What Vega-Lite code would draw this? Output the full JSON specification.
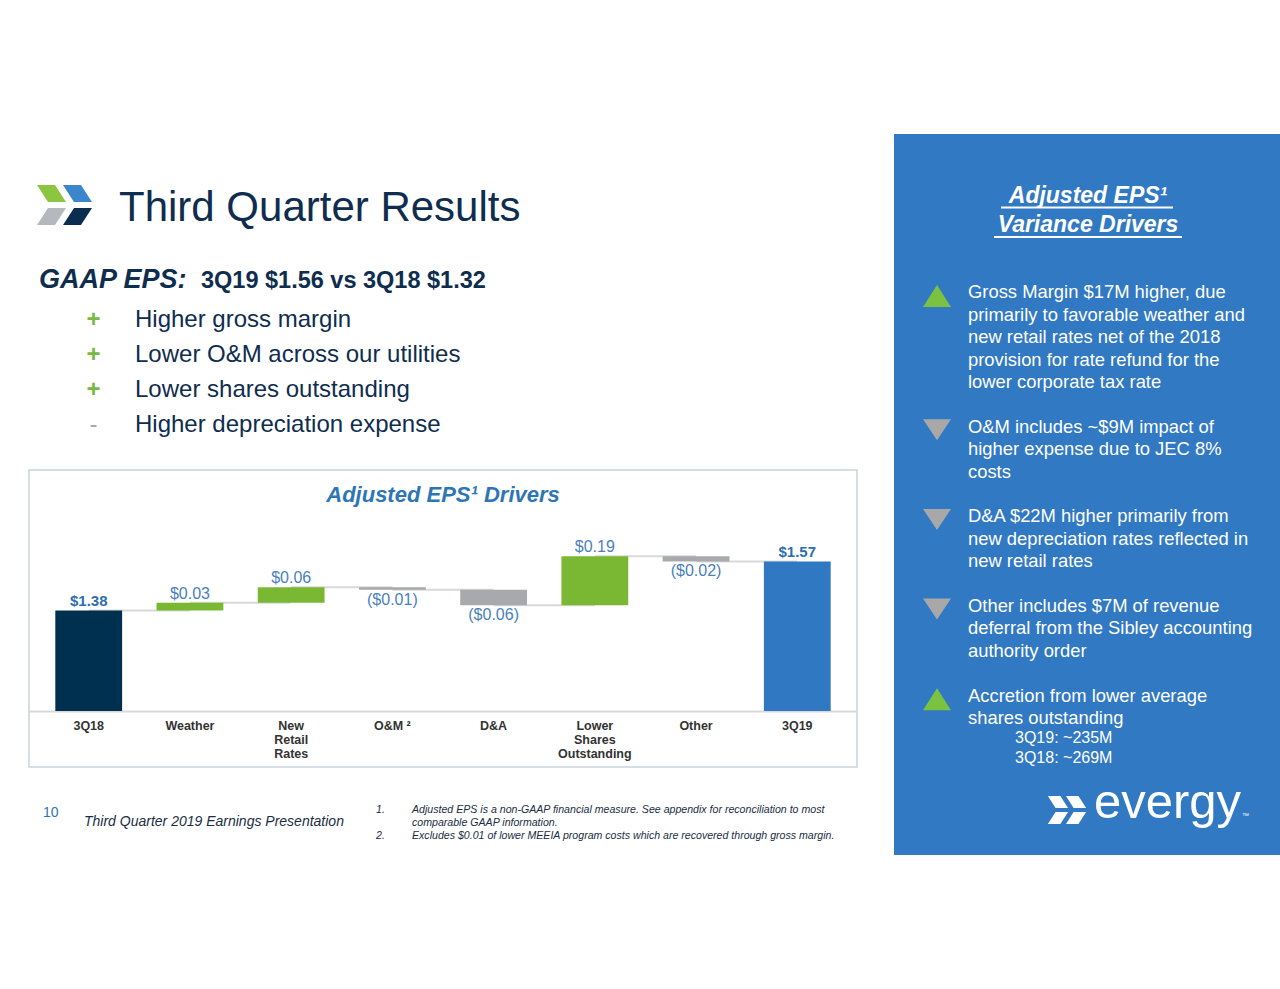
{
  "$schema": "https://vega.github.io/schema/vega-lite/v6.json",
  "background": "#ffffff",
  "padding": {"left": 28, "top": 134, "right": 0, "bottom": 0},
  "spacing": 0,
  "resolve": {"scale": {"x": "independent", "y": "independent", "color": "independent", "shape": "independent"}},
  "config": {"view": {"stroke": null}, "font": "Liberation Sans"},
  "datasets": {
    "slide": [
      {"part": "logo", "piece": "green", "line": 0, "col": 1},
      {"part": "logo", "piece": "blue", "line": 0, "col": 1},
      {"part": "logo", "piece": "gray", "line": 0, "col": 1},
      {"part": "logo", "piece": "navy", "line": 0, "col": 1},
      {"part": "title", "text": "Third Quarter Results", "line": 0, "col": 3},
      {"part": "gaap", "text": "GAAP EPS:", "line": 1, "col": 0},
      {"part": "gaapval", "text": "3Q19 $1.56 vs 3Q18 $1.32", "line": 1, "col": 5},
      {"part": "sign", "text": "+", "line": 2, "col": 2},
      {"part": "bullet", "text": "Higher gross margin", "line": 2, "col": 4},
      {"part": "sign", "text": "+", "line": 3, "col": 2},
      {"part": "bullet", "text": "Lower O&M across our utilities", "line": 3, "col": 4},
      {"part": "sign", "text": "+", "line": 4, "col": 2},
      {"part": "bullet", "text": "Lower shares outstanding", "line": 4, "col": 4},
      {"part": "sign", "text": "-", "line": 5, "col": 2},
      {"part": "bullet", "text": "Higher depreciation expense", "line": 5, "col": 4}
    ],
    "drivers": [
      {"driver": "3Q18", "kind": "total", "start": 0, "end": 1.38, "label": "$1.38", "next": "Weather"},
      {"driver": "Weather", "kind": "up", "start": 1.38, "end": 1.41, "label": "$0.03", "next": "New Retail Rates"},
      {"driver": "New Retail Rates", "kind": "up", "start": 1.41, "end": 1.47, "label": "$0.06", "next": "O&M ²"},
      {"driver": "O&M ²", "kind": "down", "start": 1.47, "end": 1.46, "label": "($0.01)", "next": "D&A"},
      {"driver": "D&A", "kind": "down", "start": 1.46, "end": 1.40, "label": "($0.06)", "next": "Lower Shares Outstanding"},
      {"driver": "Lower Shares Outstanding", "kind": "up", "start": 1.40, "end": 1.59, "label": "$0.19", "next": "Other"},
      {"driver": "Other", "kind": "down", "start": 1.59, "end": 1.57, "label": "($0.02)", "next": "3Q19"},
      {"driver": "3Q19", "kind": "final", "start": 0, "end": 1.57, "label": "$1.57", "next": null}
    ],
    "footer": [
      {"part": "page", "text": "10", "line": 0, "col": 0},
      {"part": "deck", "text": "Third Quarter 2019 Earnings Presentation", "line": 1, "col": 1},
      {"part": "note", "text": "1.", "line": 0, "col": 2},
      {"part": "note", "text": "Adjusted EPS is a non-GAAP financial measure.  See appendix for reconciliation to most", "line": 0, "col": 3},
      {"part": "note", "text": "comparable GAAP information.", "line": 1, "col": 3},
      {"part": "note", "text": "2.", "line": 2, "col": 2},
      {"part": "note", "text": "Excludes $0.01 of lower MEEIA program costs which are recovered through gross margin.", "line": 2, "col": 3}
    ],
    "panel": [
      {"part": "head", "text": "Adjusted EPS¹", "line": -4, "col": 6},
      {"part": "head", "text": "Variance Drivers", "line": -2, "col": 6},
      {"part": "rule", "line": -3, "col": 3, "colEnd": 8},
      {"part": "rule", "line": -1, "col": 2, "colEnd": 9},
      {"part": "marker", "dir": "up", "line": 0, "col": 0},
      {"part": "marker", "dir": "down", "line": 6, "col": 0},
      {"part": "marker", "dir": "down", "line": 10, "col": 0},
      {"part": "marker", "dir": "down", "line": 14, "col": 0},
      {"part": "marker", "dir": "up", "line": 18, "col": 0},
      {"part": "body", "text": "Gross Margin $17M higher, due", "line": 0, "col": 1},
      {"part": "body", "text": "primarily to favorable weather and", "line": 1, "col": 1},
      {"part": "body", "text": "new retail rates net of the 2018", "line": 2, "col": 1},
      {"part": "body", "text": "provision for rate refund for the", "line": 3, "col": 1},
      {"part": "body", "text": "lower corporate tax rate", "line": 4, "col": 1},
      {"part": "body", "text": "O&M includes ~$9M impact of", "line": 6, "col": 1},
      {"part": "body", "text": "higher expense due to JEC 8%", "line": 7, "col": 1},
      {"part": "body", "text": "costs", "line": 8, "col": 1},
      {"part": "body", "text": "D&A $22M higher primarily from", "line": 10, "col": 1},
      {"part": "body", "text": "new depreciation rates reflected in", "line": 11, "col": 1},
      {"part": "body", "text": "new retail rates", "line": 12, "col": 1},
      {"part": "body", "text": "Other includes $7M of revenue", "line": 14, "col": 1},
      {"part": "body", "text": "deferral from the Sibley accounting", "line": 15, "col": 1},
      {"part": "body", "text": "authority order", "line": 16, "col": 1},
      {"part": "body", "text": "Accretion from lower average", "line": 18, "col": 1},
      {"part": "body", "text": "shares outstanding", "line": 19, "col": 1},
      {"part": "sub", "text": "3Q19: ~235M", "line": 20, "col": 4},
      {"part": "sub", "text": "3Q18: ~269M", "line": 21, "col": 4},
      {"part": "mark", "line": 22, "col": 5},
      {"part": "brand", "text": "evergy", "line": 22, "col": 7},
      {"part": "tm", "text": "™", "line": 22, "col": 10}
    ]
  },
  "hconcat": [
    {
      "spacing": 0,
      "bounds": "flush",
      "resolve": {"scale": {"x": "independent", "y": "independent", "color": "independent", "shape": "independent"}},
      "vconcat": [
        {
          "width": 865,
          "height": 336,
          "data": {"name": "slide"},
          "encoding": {
            "x": {"field": "col", "type": "quantitative", "axis": null, "scale": {"domain": [0, 1, 2, 3, 4, 5], "range": [10, 33, 64.5, 90, 106, 172], "zero": false, "nice": false}},
            "y": {"field": "line", "type": "quantitative", "axis": null, "scale": {"domain": [0, 1, 2, 5], "range": [86.7, 154.3, 192.7, 297.7], "zero": false, "nice": false}}
          },
          "layer": [
            {
              "transform": [{"filter": "datum.part == 'logo'"}],
              "mark": {"type": "point", "filled": true, "size": 3600, "opacity": 1, "strokeWidth": 0},
              "encoding": {
                "shape": {"field": "piece", "type": "nominal", "legend": null, "scale": {"domain": ["green", "blue", "gray", "navy"], "range": ["M-0.833,-1.19L-0.233,-1.19L0.133,-0.623L-0.467,-0.623Z", "M0.033,-1.19L0.633,-1.19L1,-0.623L0.4,-0.623Z", "M-0.467,-0.423L0.133,-0.423L-0.233,0.143L-0.833,0.143Z", "M0.4,-0.423L1,-0.423L0.633,0.143L0.033,0.143Z"]}},
                "color": {"field": "piece", "type": "nominal", "legend": null, "scale": {"domain": ["green", "blue", "gray", "navy"], "range": ["#8CC540", "#3B86CD", "#B5B9BE", "#0B2E50"]}}
              }
            },
            {
              "transform": [{"filter": "datum.part == 'title'"}],
              "mark": {"type": "text", "align": "left", "baseline": "alphabetic", "fontSize": 42, "color": "#0F2D4E"},
              "encoding": {"text": {"field": "text"}}
            },
            {
              "transform": [{"filter": "datum.part == 'gaap'"}],
              "mark": {"type": "text", "align": "left", "baseline": "alphabetic", "fontSize": 27, "fontWeight": "bold", "fontStyle": "italic", "color": "#0F2D4E"},
              "encoding": {"text": {"field": "text"}}
            },
            {
              "transform": [{"filter": "datum.part == 'gaapval'"}],
              "mark": {"type": "text", "align": "left", "baseline": "alphabetic", "fontSize": 23.5, "fontWeight": "bold", "color": "#0F2D4E"},
              "encoding": {"text": {"field": "text"}}
            },
            {
              "transform": [{"filter": "datum.part == 'sign' && datum.text == '+'"}],
              "mark": {"type": "text", "align": "center", "baseline": "alphabetic", "fontSize": 24, "fontWeight": "bold", "color": "#78B843"},
              "encoding": {"text": {"field": "text"}}
            },
            {
              "transform": [{"filter": "datum.part == 'sign' && datum.text == '-'"}],
              "mark": {"type": "text", "align": "center", "baseline": "alphabetic", "fontSize": 24, "color": "#A9A9A9"},
              "encoding": {"text": {"field": "text"}}
            },
            {
              "transform": [{"filter": "datum.part == 'bullet'"}],
              "mark": {"type": "text", "align": "left", "baseline": "alphabetic", "fontSize": 24, "color": "#0F2D4E"},
              "encoding": {"text": {"field": "text"}}
            }
          ]
        },
        {
          "width": 828,
          "height": 297,
          "view": {"stroke": "#C8D4DD", "strokeWidth": 1.5},
          "title": {"text": "Adjusted EPS¹ Drivers", "anchor": "middle", "fontSize": 22, "fontWeight": "bold", "fontStyle": "italic", "color": "#2E75B6", "offset": 0, "baseline": "alphabetic", "dy": 54},
          "data": {"name": "drivers"},
          "encoding": {
            "x": {
              "field": "driver", "type": "nominal", "sort": null,
              "scale": {"domain": ["3Q18", "Weather", "New Retail Rates", "O&M ²", "D&A", "Lower Shares Outstanding", "Other", "3Q19"], "paddingInner": 0.34, "paddingOuter": 0.26},
              "axis": {"title": null, "orient": "bottom", "offset": -56, "ticks": false, "domainColor": "#D9D9D9", "domainWidth": 2, "labelAngle": 0, "labelFontSize": 12.5, "labelFontWeight": "bold", "labelColor": "#333333", "labelPadding": 8, "labelLineHeight": 14, "labelFont": "Liberation Sans",
                "labelExpr": "datum.value == 'New Retail Rates' ? ['New', 'Retail', 'Rates'] : datum.value == 'Lower Shares Outstanding' ? ['Lower', 'Shares', 'Outstanding'] : datum.label"}
            }
          },
          "layer": [
            {
              "transform": [{"filter": "datum.next != null"}],
              "mark": {"type": "rule", "color": "#D9D9D9", "strokeWidth": 2},
              "encoding": {
                "x": {"field": "driver", "type": "nominal", "bandPosition": 0.5},
                "x2": {"field": "next", "bandPosition": 0.5},
                "y": {"field": "end", "type": "quantitative", "axis": null, "scale": {"domain": [0.99, 1.62], "range": [241, 78.5], "zero": false, "nice": false, "clamp": true}}
              }
            },
            {
              "mark": {"type": "bar"},
              "encoding": {
                "y": {"field": "start", "type": "quantitative", "axis": null, "scale": {"domain": [0.99, 1.62], "range": [241, 78.5], "zero": false, "nice": false, "clamp": true}},
                "y2": {"field": "end"},
                "color": {"field": "kind", "type": "nominal", "legend": null, "scale": {"domain": ["total", "up", "down", "final"], "range": ["#00304F", "#7AB833", "#A7A9AC", "#3079C2"]}}
              }
            },
            {
              "transform": [{"filter": "datum.kind == 'total' || datum.kind == 'final'"}],
              "mark": {"type": "text", "baseline": "bottom", "dy": -1, "fontSize": 15, "fontWeight": "bold", "color": "#2F6EAE"},
              "encoding": {
                "y": {"field": "end", "type": "quantitative", "axis": null, "scale": {"domain": [0.99, 1.62], "range": [241, 78.5], "zero": false, "nice": false, "clamp": true}},
                "text": {"field": "label"}
              }
            },
            {
              "transform": [{"filter": "datum.kind == 'up'"}],
              "mark": {"type": "text", "baseline": "bottom", "dy": -1, "fontSize": 16, "color": "#4A7FBB"},
              "encoding": {
                "y": {"field": "end", "type": "quantitative", "axis": null, "scale": {"domain": [0.99, 1.62], "range": [241, 78.5], "zero": false, "nice": false, "clamp": true}},
                "text": {"field": "label"}
              }
            },
            {
              "transform": [{"filter": "datum.kind == 'down'"}],
              "mark": {"type": "text", "baseline": "top", "dy": 2, "fontSize": 16, "color": "#4A7FBB"},
              "encoding": {
                "y": {"field": "end", "type": "quantitative", "axis": null, "scale": {"domain": [0.99, 1.62], "range": [241, 78.5], "zero": false, "nice": false, "clamp": true}},
                "text": {"field": "label"}
              }
            }
          ]
        },
        {
          "width": 865,
          "height": 88,
          "data": {"name": "footer"},
          "encoding": {
            "x": {"field": "col", "type": "quantitative", "axis": null, "scale": {"domain": [0, 1, 2, 3], "range": [14, 55, 347, 383], "zero": false, "nice": false}},
            "y": {"field": "line", "type": "quantitative", "axis": null, "scale": {"domain": [0, 2], "range": [46, 72], "zero": false, "nice": false}}
          },
          "layer": [
            {
              "transform": [{"filter": "datum.part == 'page'"}],
              "mark": {"type": "text", "align": "left", "baseline": "alphabetic", "dy": 4, "fontSize": 14, "color": "#2E75B6"},
              "encoding": {"text": {"field": "text"}}
            },
            {
              "transform": [{"filter": "datum.part == 'deck'"}],
              "mark": {"type": "text", "align": "left", "baseline": "alphabetic", "fontSize": 14, "fontStyle": "italic", "color": "#1B2D45"},
              "encoding": {"text": {"field": "text"}}
            },
            {
              "transform": [{"filter": "datum.part == 'note'"}],
              "mark": {"type": "text", "align": "left", "baseline": "alphabetic", "fontSize": 10.6, "fontStyle": "italic", "color": "#1B2D45"},
              "encoding": {"text": {"field": "text"}}
            }
          ]
        }
      ]
    },
    {
      "width": 387,
      "height": 721,
      "view": {"fill": "#3179C3", "stroke": null},
      "data": {"name": "panel"},
      "encoding": {
        "x": {"field": "col", "type": "quantitative", "axis": null, "scale": {"domain": [0, 1, 2, 3, 4, 5, 6, 7, 8, 9, 10], "range": [43, 74, 100, 107, 121, 172, 194, 200, 279, 288, 348], "zero": false, "nice": false}},
        "y": {"field": "line", "type": "quantitative", "axis": null, "scale": {"domain": [-4, -3, -2, -1, 0, 19, 20, 21, 22], "range": [69.3, 73.5, 97.7, 103, 164.3, 590, 609.3, 628.7, 684.3], "zero": false, "nice": false}}
      },
      "layer": [
        {
          "transform": [{"filter": "datum.part == 'head'"}],
          "mark": {"type": "text", "align": "center", "baseline": "alphabetic", "fontSize": 23, "fontWeight": "bold", "fontStyle": "italic", "color": "#ffffff"},
          "encoding": {"text": {"field": "text"}}
        },
        {
          "transform": [{"filter": "datum.part == 'rule'"}],
          "mark": {"type": "rule", "color": "#ffffff", "strokeWidth": 2},
          "encoding": {"x2": {"field": "colEnd"}}
        },
        {
          "transform": [{"filter": "datum.part == 'marker'"}],
          "mark": {"type": "point", "filled": true, "size": 784, "opacity": 1, "strokeWidth": 0},
          "encoding": {
            "shape": {"field": "dir", "type": "nominal", "legend": null, "scale": {"domain": ["up", "down"], "range": ["M0,-0.95L1,0.62L-1,0.62Z", "M-1,-0.96L1,-0.96L0,0.54Z"]}},
            "color": {"field": "dir", "type": "nominal", "legend": null, "scale": {"domain": ["up", "down"], "range": ["#7CC242", "#A8A8A8"]}}
          }
        },
        {
          "transform": [{"filter": "datum.part == 'body'"}],
          "mark": {"type": "text", "align": "left", "baseline": "alphabetic", "fontSize": 18.4, "color": "#ffffff"},
          "encoding": {"text": {"field": "text"}}
        },
        {
          "transform": [{"filter": "datum.part == 'sub'"}],
          "mark": {"type": "text", "align": "left", "baseline": "alphabetic", "fontSize": 16, "color": "#ffffff"},
          "encoding": {"text": {"field": "text"}}
        },
        {
          "transform": [{"filter": "datum.part == 'mark'"}],
          "mark": {"type": "point", "filled": true, "size": 1681, "opacity": 1, "strokeWidth": 0, "color": "#ffffff",
            "shape": "M-0.885,-1.084L-0.274,-1.084L0.1,-0.507L-0.511,-0.507ZM-0.511,-0.303L0.1,-0.303L-0.274,0.274L-0.885,0.274ZM-0.002,-1.084L0.609,-1.084L0.982,-0.507L0.371,-0.507ZM0.371,-0.303L0.982,-0.303L0.609,0.274L-0.002,0.274Z"}
        },
        {
          "transform": [{"filter": "datum.part == 'brand'"}],
          "mark": {"type": "text", "align": "left", "baseline": "alphabetic", "fontSize": 49, "color": "#ffffff"},
          "encoding": {"text": {"field": "text"}}
        },
        {
          "transform": [{"filter": "datum.part == 'tm'"}],
          "mark": {"type": "text", "align": "left", "baseline": "alphabetic", "fontSize": 7, "color": "#ffffff"},
          "encoding": {"text": {"field": "text"}}
        }
      ]
    }
  ]
}
